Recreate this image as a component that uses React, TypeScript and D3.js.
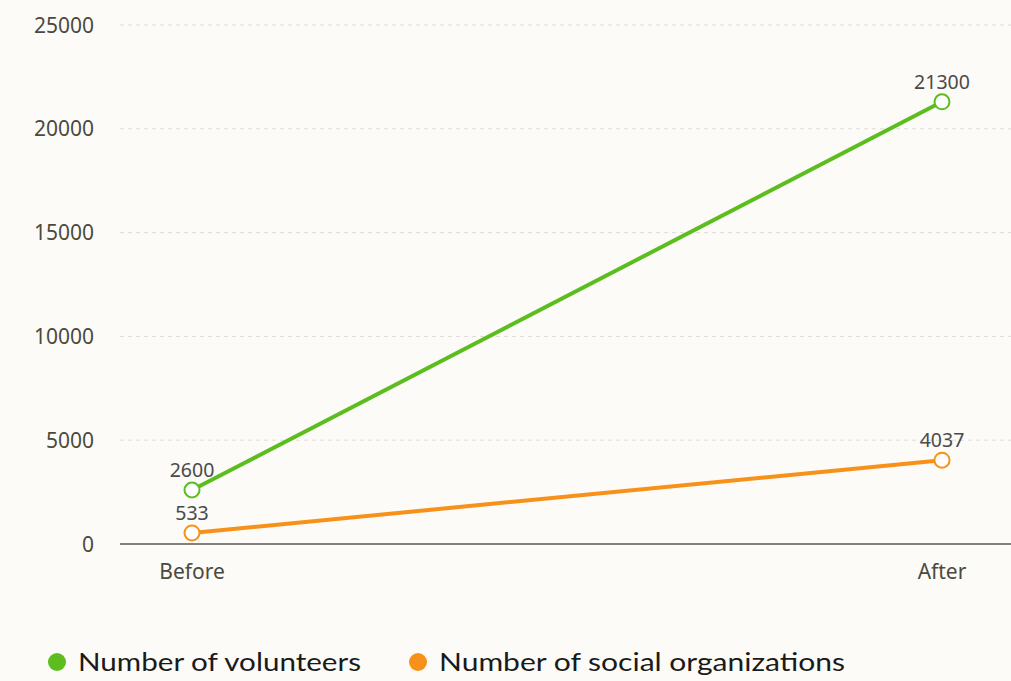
import React from "react";
import * as d3 from "d3";

const categories = ["Before", "After"];
const volunteers = [2600, 21300];
const organizations = [533, 4037];
const yTicks = [0, 5000, 10000, 15000, 20000, 25000];
const seriesNames = ["Number of volunteers", "Number of social organizations"];
const seriesColors = ["#5cbd1e", "#f7911a"];

const W = 1011;
const H = 681;
const BG = "#fcfbf7";
const FONT = "'Noto Sans', 'Open Sans', sans-serif";

export default function App() {
  const y = d3.scaleLinear().domain([0, 25000]).range([544, 25]);
  const x = d3.scalePoint<string>().domain(categories).range([120, 1014]).padding(0.096);
  const line = d3
    .line<number>()
    .x((_, i) => x(categories[i]) as number)
    .y((d) => y(d));
  const series = [volunteers, organizations];
  const legendX = [57, 418];
  const legendW = [283, 406];
  return (
    <svg width={W} height={H} style={{ position: "absolute", left: 0, top: 0, background: BG }}>
      <rect x={0} y={0} width={W} height={H} fill={BG} />
      {yTicks.map((t) => (
        <g key={t}>
          {t !== 0 && (
            <line x1={120} x2={W} y1={y(t)} y2={y(t)} stroke="#dcdcd8" strokeWidth={1} strokeDasharray="4,4" />
          )}
          <text
            x={94}
            y={y(t)}
            dy="0.36em"
            textAnchor="end"
            fontFamily={FONT}
            fontSize={21}
            fill="#4a4a40"
          >
            {t}
          </text>
        </g>
      ))}
      <line x1={120} x2={W} y1={y(0)} y2={y(0)} stroke="#5a5a50" strokeWidth={1.5} />
      {categories.map((c) => (
        <text
          key={c}
          x={x(c) as number}
          y={579}
          textAnchor="middle"
          fontFamily={FONT}
          fontSize={21}
          fill="#4a4a40"
        >
          {c}
        </text>
      ))}
      {series.map((s, si) => (
        <g key={si}>
          <path d={line(s) || ""} fill="none" stroke={seriesColors[si]} strokeWidth={4} />
          {s.map((v, i) => (
            <g key={i}>
              <circle cx={x(categories[i]) as number} cy={y(v)} r={7.5} fill="#ffffff" stroke={seriesColors[si]} strokeWidth={2} />
              <text
                x={x(categories[i]) as number}
                y={y(v) - 13}
                textAnchor="middle"
                fontFamily={FONT}
                fontSize={19.5}
                fill="#4a4a4a"
              >
                {v}
              </text>
            </g>
          ))}
        </g>
      ))}
      {seriesNames.map((n, i) => (
        <g key={n}>
          <circle cx={legendX[i]} cy={662} r={9} fill={seriesColors[i]} />
          <text
            x={legendX[i] + 21}
            y={671}
            fontFamily="Lato, 'Noto Sans', sans-serif"
            fontSize={25}
            fill="#1a1a1a"
            textLength={legendW[i]}
            lengthAdjust="spacingAndGlyphs"
          >
            {n}
          </text>
        </g>
      ))}
    </svg>
  );
}
